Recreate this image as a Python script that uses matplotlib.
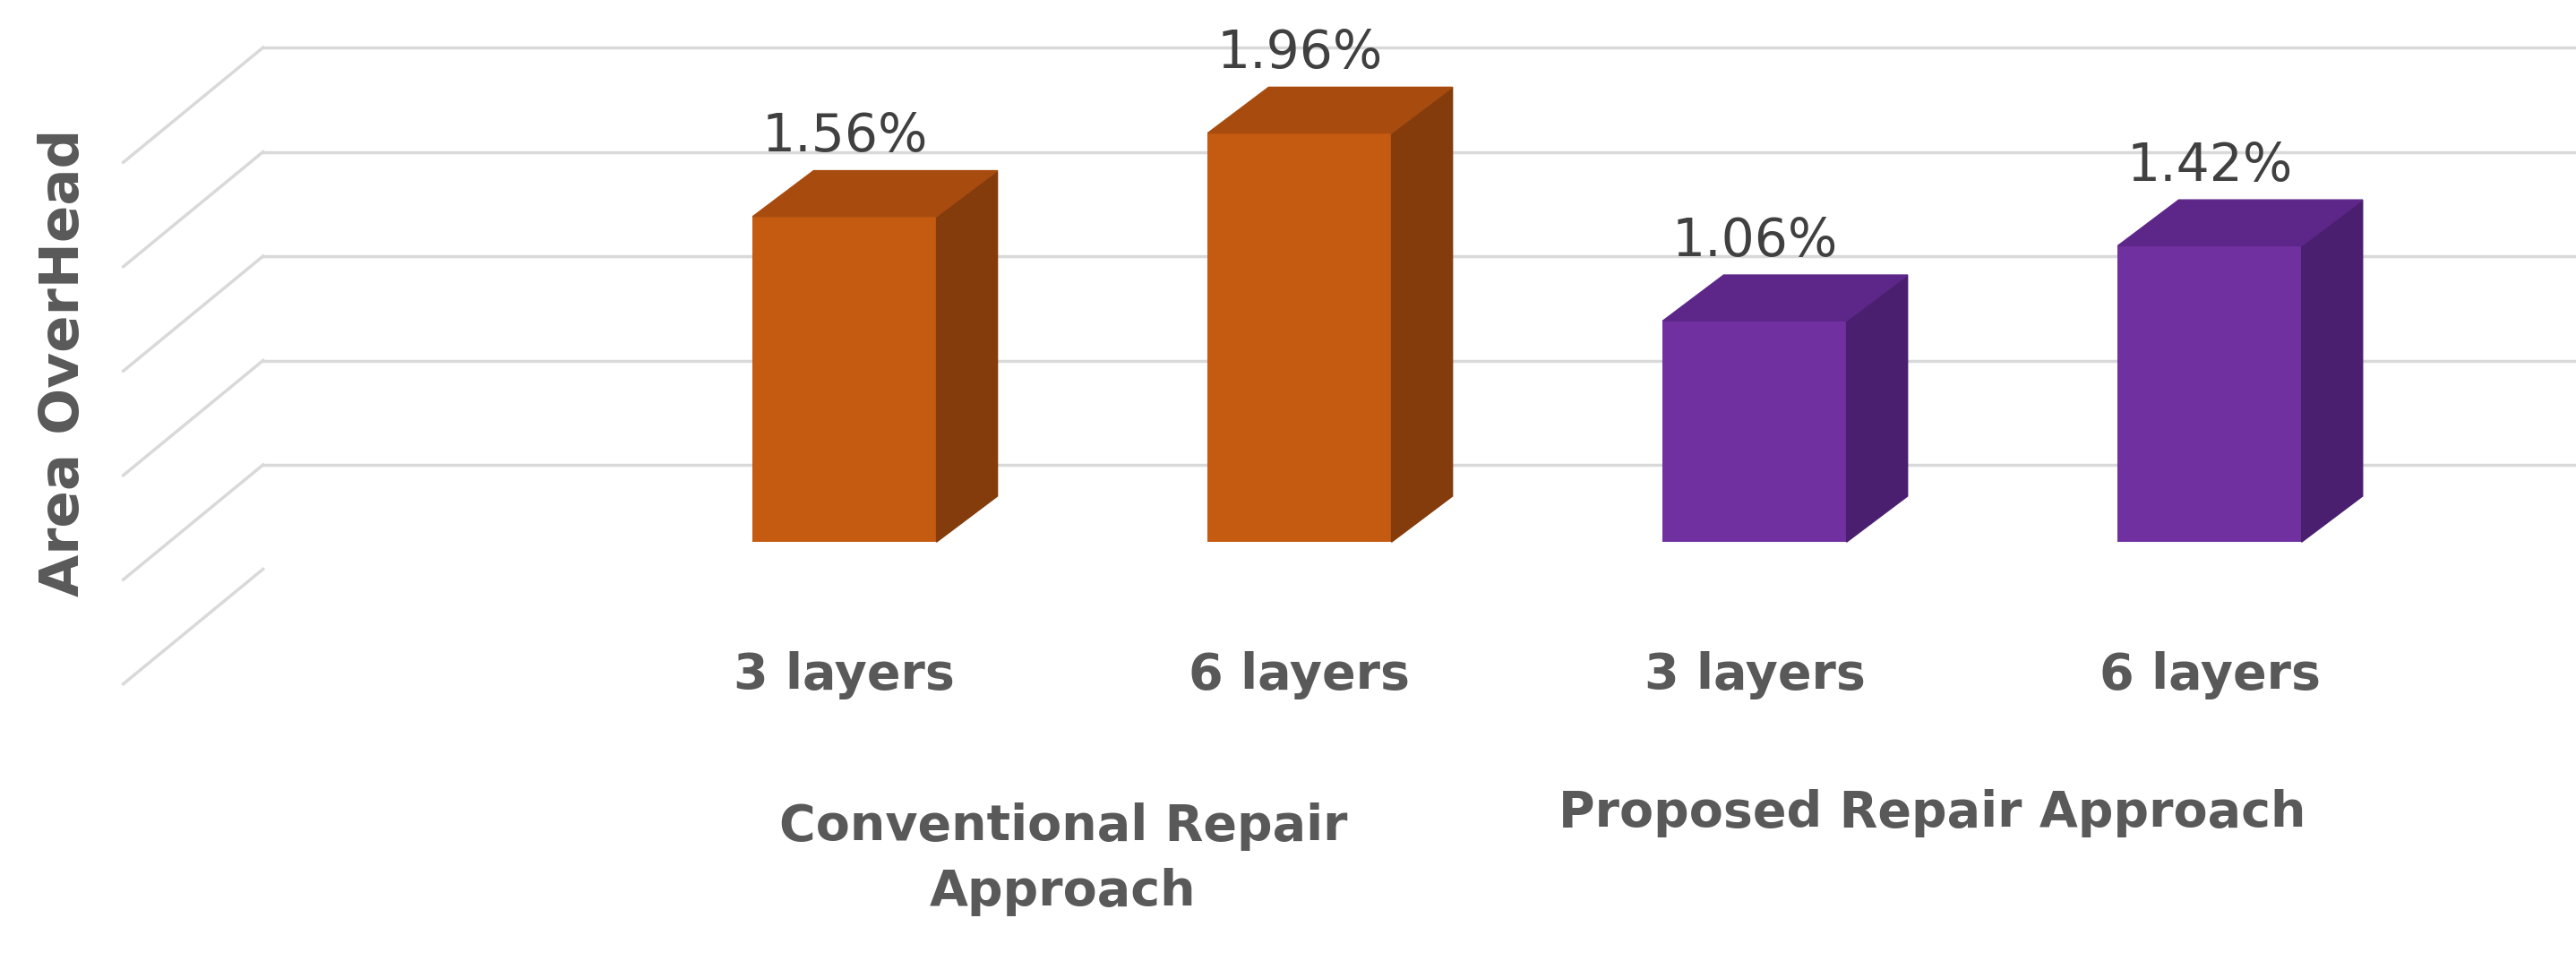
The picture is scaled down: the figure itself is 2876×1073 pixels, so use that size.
import matplotlib
matplotlib.use("Agg")
import matplotlib.pyplot as plt
from matplotlib.patches import Polygon

categories = ["3 layers", "6 layers", "3 layers", "6 layers"]
groups = ["Conventional Repair\nApproach", "Proposed Repair Approach"]
values = [1.56, 1.96, 1.06, 1.42]
labels = ["1.56%", "1.96%", "1.06%", "1.42%"]
grid_vals = [0, 0.5, 1.0, 1.5, 2.0, 2.5]

front = ["#C55A11", "#C55A11", "#7030A0", "#7030A0"]
side = ["#843C0C", "#843C0C", "#4B1F70", "#4B1F70"]
top = ["#A84B0E", "#A84B0E", "#5D2789", "#5D2789"]

fig = plt.figure(figsize=(28.76, 10.73), dpi=100)
ax = fig.add_axes([0, 0, 1, 1])
ax.set_xlim(-1.856, 3.805)
ax.set_ylim(-2.008, 2.598)
ax.axis("off")

# gridlines on back wall with floor diagonals
wall_dy = -0.13
wall_x = -1.278
diag_dx, diag_dy = -0.307, -0.55
for v in grid_vals:
    y = v + wall_dy
    if v > 0:
        ax.plot([wall_x, 3.805], [y, y], color="#D9D9D9", lw=2.5, zorder=1)
    ax.plot([wall_x, wall_x + diag_dx], [y, y + diag_dy], color="#D9D9D9", lw=2.5, zorder=1)

w = 0.404
ddx, ddy = 0.134, 0.22
xs = list(range(len(values)))
ax.bar(xs, values, width=w, color=front, zorder=3)
for x, v, s, t in zip(xs, values, side, top):
    r = x + w / 2
    l = x - w / 2
    ax.add_patch(Polygon([(r, 0), (r + ddx, ddy), (r + ddx, v + ddy), (r, v)], closed=True, color=s, zorder=3))
    ax.add_patch(Polygon([(l, v), (r, v), (r + ddx, v + ddy), (l + ddx, v + ddy)], closed=True, color=t, zorder=3))

for x, v, lab in zip(xs, values, labels):
    ax.text(x, v + 0.26, lab, ha="center", va="bottom", fontsize=42, color="#404040", zorder=4)

for x, c in zip(xs, categories):
    ax.text(x, -0.64, c, ha="center", va="center", fontsize=40, fontweight="bold", color="#595959")

ax.text(0.48, -1.52, groups[0], ha="center", va="center", fontsize=40, fontweight="bold",
        color="#595959", linespacing=1.45)
ax.text(2.39, -1.30, groups[1], ha="center", va="center", fontsize=40, fontweight="bold",
        color="#595959")

ax.text(-1.715, 0.86, "Area OverHead", rotation=90, ha="center", va="center", fontsize=44,
        fontweight="bold", color="#595959")

fig.savefig("out.png", dpi=100)
